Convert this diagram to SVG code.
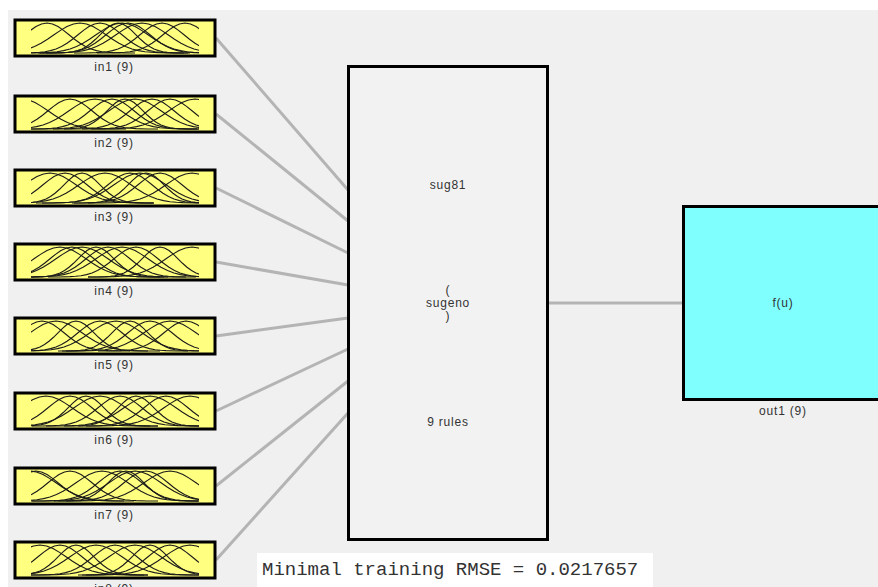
<svg xmlns="http://www.w3.org/2000/svg" xmlns:xlink="http://www.w3.org/1999/xlink" width="878" height="587" viewBox="0 0 878 587">
<style>
.bg{fill:#f0f0f0}
.inbox{fill:#ffff80;stroke:#000;stroke-width:3}
.mf{fill:none;stroke:#1a1a1a;stroke-width:1.1;stroke-linejoin:round}
.lbl{font-family:"Liberation Sans",Arial,sans-serif;font-size:12px;fill:#333;text-anchor:middle;letter-spacing:0.8px}
.conn{stroke:#b4b4b4;stroke-width:3;fill:none}
.node{fill:#f2f2f2;stroke:#000;stroke-width:3}
.out{fill:#80ffff;stroke:#000;stroke-width:3}
.rmse{font-family:"Liberation Mono",monospace;font-size:19px;fill:#333}
</style>
<defs>
<clipPath id="mfclip" clipPathUnits="userSpaceOnUse"><rect x="31" y="-32" width="168" height="33"/></clipPath>
<path id="g18" class="mf" d="M-72,0 L-63,-0.07 L-54,-0.33 L-49.5,-0.68 L-45,-1.32 L-40.5,-2.39 L-36,-4.06 L-31.5,-6.49 L-27,-9.74 L-22.5,-13.73 L-18,-18.2 L-13.5,-22.64 L-9,-26.48 L-4.5,-29.08 L0,-30 L4.5,-29.08 L9,-26.48 L13.5,-22.64 L18,-18.2 L22.5,-13.73 L27,-9.74 L31.5,-6.49 L36,-4.06 L40.5,-2.39 L45,-1.32 L49.5,-0.68 L54,-0.33 L63,-0.07 L72,0"/>
<path id="g22" class="mf" d="M-88,0 L-77,-0.07 L-66,-0.33 L-60.5,-0.68 L-55,-1.32 L-49.5,-2.39 L-44,-4.06 L-38.5,-6.49 L-33,-9.74 L-27.5,-13.73 L-22,-18.2 L-16.5,-22.64 L-11,-26.48 L-5.5,-29.08 L0,-30 L5.5,-29.08 L11,-26.48 L16.5,-22.64 L22,-18.2 L27.5,-13.73 L33,-9.74 L38.5,-6.49 L44,-4.06 L49.5,-2.39 L55,-1.32 L60.5,-0.68 L66,-0.33 L77,-0.07 L88,0"/>
<path id="g26" class="mf" d="M-104,0 L-91,-0.07 L-78,-0.33 L-71.5,-0.68 L-65,-1.32 L-58.5,-2.39 L-52,-4.06 L-45.5,-6.49 L-39,-9.74 L-32.5,-13.73 L-26,-18.2 L-19.5,-22.64 L-13,-26.48 L-6.5,-29.08 L0,-30 L6.5,-29.08 L13,-26.48 L19.5,-22.64 L26,-18.2 L32.5,-13.73 L39,-9.74 L45.5,-6.49 L52,-4.06 L58.5,-2.39 L65,-1.32 L71.5,-0.68 L78,-0.33 L91,-0.07 L104,0"/>
</defs>

<rect class="bg" x="8" y="10" width="870" height="577"/>

<g id="connectors">
<line class="conn" x1="216" y1="38" x2="348" y2="190"/>
<line class="conn" x1="216" y1="114" x2="348" y2="221"/>
<line class="conn" x1="216" y1="188" x2="348" y2="253"/>
<line class="conn" x1="216" y1="262" x2="348" y2="285"/>
<line class="conn" x1="216" y1="336" x2="348" y2="318"/>
<line class="conn" x1="216" y1="411" x2="348" y2="349"/>
<line class="conn" x1="216" y1="486" x2="348" y2="381"/>
<line class="conn" x1="216" y1="560" x2="348" y2="413"/>
<line class="conn" x1="549" y1="303" x2="683" y2="303"/>
</g>

<g id="in1">
<rect class="inbox" x="15" y="20" width="200" height="36"/>
<g clip-path="url(#mfclip)" transform="translate(0,53)">
<use href="#g22" x="47"/><use href="#g26" x="80"/><use href="#g22" x="100"/><use href="#g18" x="118"/><use href="#g26" x="122"/><use href="#g22" x="128"/><use href="#g26" x="142"/><use href="#g22" x="162"/><use href="#g22" x="185"/>
</g>
<text class="lbl" x="114" y="71">in1 (9)</text>
</g>

<g id="in2">
<rect class="inbox" x="15" y="96" width="200" height="36"/>
<g clip-path="url(#mfclip)" transform="translate(0,129)">
<use href="#g26" x="22"/><use href="#g22" x="70"/><use href="#g26" x="95"/><use href="#g22" x="112"/><use href="#g18" x="125"/><use href="#g26" x="135"/><use href="#g22" x="152"/><use href="#g22" x="170"/><use href="#g26" x="195"/>
</g>
<text class="lbl" x="114" y="147">in2 (9)</text>
</g>

<g id="in3">
<rect class="inbox" x="15" y="170" width="200" height="36"/>
<g clip-path="url(#mfclip)" transform="translate(0,203)">
<use href="#g26" x="50"/><use href="#g22" x="65"/><use href="#g18" x="82"/><use href="#g26" x="105"/><use href="#g22" x="130"/><use href="#g26" x="140"/><use href="#g18" x="146"/><use href="#g22" x="160"/><use href="#g26" x="192"/>
</g>
<text class="lbl" x="114" y="221">in3 (9)</text>
</g>

<g id="in4">
<rect class="inbox" x="15" y="244" width="200" height="36"/>
<g clip-path="url(#mfclip)" transform="translate(0,277)">
<use href="#g26" x="60"/><use href="#g22" x="72"/><use href="#g26" x="82"/><use href="#g18" x="96"/><use href="#g22" x="108"/><use href="#g26" x="122"/><use href="#g22" x="136"/><use href="#g18" x="160"/><use href="#g26" x="192"/>
</g>
<text class="lbl" x="114" y="295">in4 (9)</text>
</g>

<g id="in5">
<rect class="inbox" x="15" y="318" width="200" height="36"/>
<g clip-path="url(#mfclip)" transform="translate(0,351)">
<use href="#g22" x="42"/><use href="#g26" x="56"/><use href="#g18" x="76"/><use href="#g22" x="100"/><use href="#g26" x="116"/><use href="#g18" x="130"/><use href="#g22" x="150"/><use href="#g26" x="170"/><use href="#g22" x="186"/>
</g>
<text class="lbl" x="114" y="369">in5 (9)</text>
</g>

<g id="in6">
<rect class="inbox" x="15" y="393" width="200" height="36"/>
<g clip-path="url(#mfclip)" transform="translate(0,426)">
<use href="#g26" x="46"/><use href="#g22" x="70"/><use href="#g18" x="86"/><use href="#g26" x="100"/><use href="#g22" x="120"/><use href="#g18" x="136"/><use href="#g26" x="150"/><use href="#g22" x="166"/><use href="#g26" x="190"/>
</g>
<text class="lbl" x="114" y="444">in6 (9)</text>
</g>

<g id="in7">
<rect class="inbox" x="15" y="468" width="200" height="36"/>
<g clip-path="url(#mfclip)" transform="translate(0,501)">
<use href="#g26" x="30"/><use href="#g22" x="36"/><use href="#g22" x="70"/><use href="#g26" x="102"/><use href="#g22" x="120"/><use href="#g18" x="126"/><use href="#g26" x="135"/><use href="#g22" x="146"/><use href="#g26" x="170"/>
</g>
<text class="lbl" x="114" y="519">in7 (9)</text>
</g>

<g id="in8">
<rect class="inbox" x="15" y="542" width="200" height="36"/>
<g clip-path="url(#mfclip)" transform="translate(0,575)">
<use href="#g26" x="40"/><use href="#g22" x="60"/><use href="#g18" x="76"/><use href="#g26" x="96"/><use href="#g22" x="115"/><use href="#g26" x="135"/><use href="#g18" x="150"/><use href="#g22" x="170"/><use href="#g26" x="190"/>
</g>
<text class="lbl" x="114" y="593">in8 (9)</text>
</g>

<g id="sug81">
<rect class="node" x="348.5" y="66.5" width="199" height="473"/>
<text class="lbl" x="448" y="189">sug81</text>
<text class="lbl" x="448" y="294">(</text>
<text class="lbl" x="448" y="307">sugeno</text>
<text class="lbl" x="448" y="320">)</text>
<text class="lbl" x="448" y="426">9 rules</text>
</g>

<g id="out1">
<rect class="out" x="683.5" y="206.5" width="250" height="193"/>
<text class="lbl" x="783" y="307">f(u)</text>
<text class="lbl" x="783" y="415">out1 (9)</text>
</g>

<g id="rmse">
<rect x="257" y="553" width="396" height="40" fill="#ffffff"/>
<text class="rmse" x="262" y="575">Minimal training RMSE = 0.0217657</text>
</g>
</svg>
